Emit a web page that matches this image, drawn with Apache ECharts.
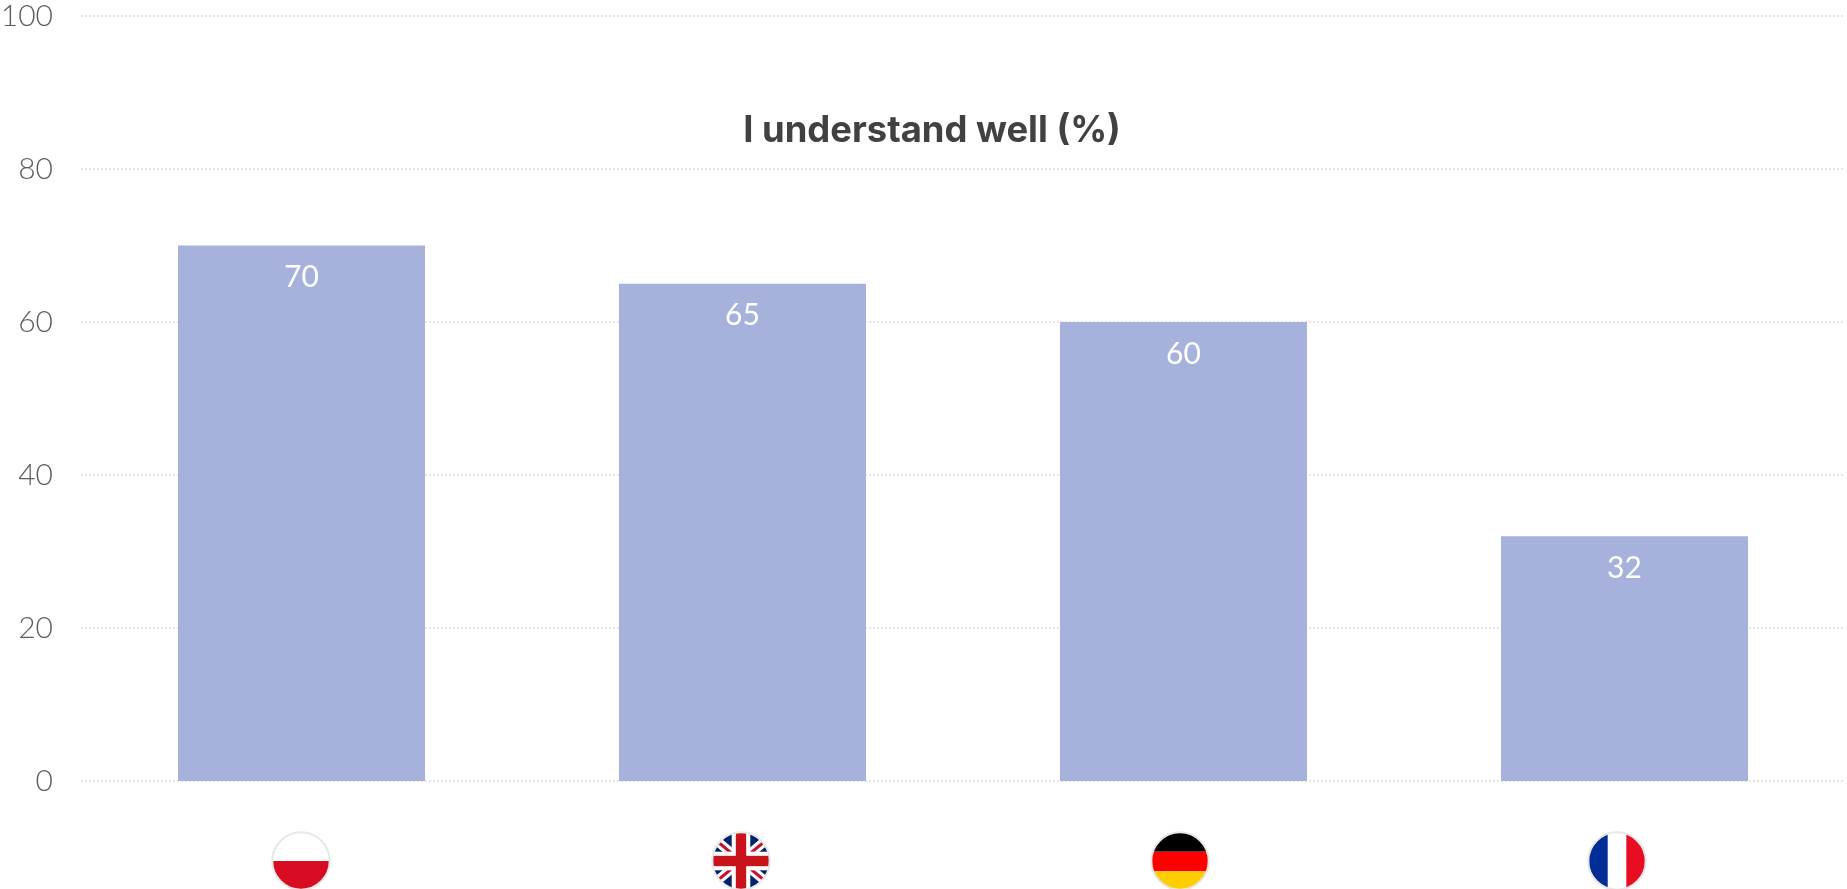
<!DOCTYPE html>
<html><head><meta charset="utf-8">
<style>html,body{margin:0;padding:0;background:#fff}#c{width:1847px;height:889px}</style>
<script src="https://cdn.jsdelivr.net/npm/echarts@6/dist/echarts.min.js"></script>
</head><body><div id="c"></div>
<script>
const categories = ["Poland", "United Kingdom", "Germany", "France"];
const values = [70, 65, 60, 32];
const yTicks = [0, 20, 40, 60, 80, 100];
const chartTitle = "I understand well (%)";

function flag(inner) {
  const svg = '<svg xmlns="http://www.w3.org/2000/svg" width="120" height="120" viewBox="0 0 116 116">' +
    '<defs><clipPath id="a"><circle cx="58" cy="58" r="55"/></clipPath></defs>' +
    '<g clip-path="url(#a)"><rect width="116" height="116" fill="#fff"/>' + inner + '</g>' +
    '<circle cx="58" cy="58" r="55.5" fill="none" stroke="#e8e8e8" stroke-width="4"/></svg>';
  return 'data:image/svg+xml;charset=utf-8,' + encodeURIComponent(svg);
}
const flags = [
  flag('<rect y="58" width="116" height="58" fill="#d80c20"/>'),
  flag('<rect width="116" height="116" fill="#012169"/>' +
    '<path d="M0 10L116 106M116 10L0 106" stroke="#fff" stroke-width="18"/>' +
    '<path d="M0 10L116 106M116 10L0 106" stroke="#c8102e" stroke-width="6"/>' +
    '<rect x="40" width="36" height="116" fill="#fff"/><rect y="40" width="116" height="36" fill="#fff"/>' +
    '<rect x="48" width="20" height="116" fill="#c8131b"/><rect y="48" width="116" height="20" fill="#c8131b"/>'),
  flag('<rect width="116" height="40" fill="#000"/><rect y="40" width="116" height="38" fill="#f00"/><rect y="78" width="116" height="38" fill="#ffce00"/>'),
  flag('<rect width="40" height="116" fill="#002d96"/><rect x="76" width="40" height="116" fill="#e90d24"/>')
];
const flagShift = [1, 3, 7, 15];
const rich = {};
categories.forEach((c, i) => {
  rich['f' + i] = { width: 60, height: 60, backgroundColor: { image: flags[i] } };
  rich['s' + i] = { width: flagShift[i], height: 60 };
});

const chart = echarts.init(document.getElementById('c'), null, { renderer: 'canvas' });
const FONT = 'Lato, "Open Sans", sans-serif';
chart.setOption({
  animation: false,
  backgroundColor: '#fff',
  title: {
    text: chartTitle, left: 927, top: 108, textAlign: 'center',
    textStyle: { fontFamily: 'Inter, Lato, sans-serif', fontWeight: 'bold', fontSize: 36.4, color: '#414141' }
  },
  grid: { left: 81, right: 2, top: 16, bottom: 108, containLabel: false, outerBoundsMode: 'none' },
  xAxis: {
    type: 'category', data: categories,
    axisLine: { show: false }, axisTick: { show: false }, splitLine: { show: false },
    axisLabel: {
      margin: 50, interval: 0,
      formatter: (v) => { const i = categories.indexOf(v); return '{f' + i + '|}{s' + i + '|}'; },
      rich
    }
  },
  yAxis: {
    type: 'value', min: yTicks[0], max: yTicks[yTicks.length - 1], interval: 20,
    axisLine: { show: false }, axisTick: { show: false },
    axisLabel: { margin: 28, fontFamily: FONT, fontWeight: 300, fontSize: 30, color: '#5e5e5e' },
    splitLine: { lineStyle: { color: '#e6e6e6', width: 2, type: [2, 2] } }
  },
  series: [{
    type: 'bar', data: values, barWidth: 247,
    itemStyle: { color: '#a7b2dc' },
    label: {
      show: true, position: 'insideTop', distance: 17,
      fontFamily: FONT, fontWeight: 400, fontSize: 30, color: '#fff'
    }
  }]
});
</script></body></html>
